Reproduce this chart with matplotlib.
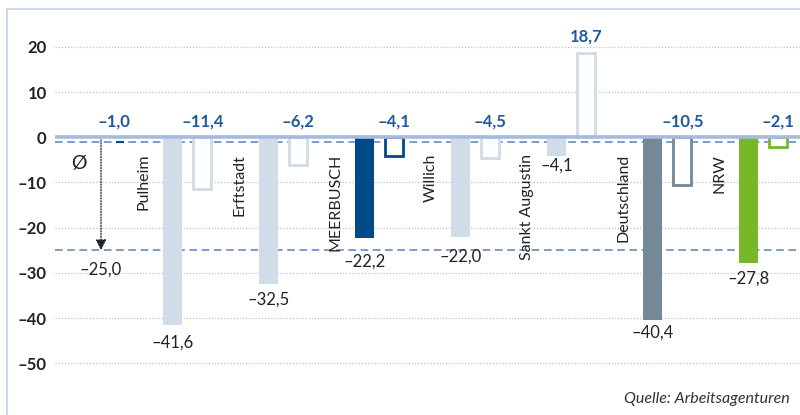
import matplotlib.pyplot as plt
from matplotlib.patches import Rectangle

plt.rcParams['font.family'] = ['Lato', 'DejaVu Sans']

# data
places = ['Pulheim', 'Erftstadt', 'MEERBUSCH', 'Willich', 'Sankt Augustin', 'Deutschland', 'NRW']
change_a = [-41.6, -32.5, -22.2, -22.0, -4.1, -40.4, -27.8]   # filled bars
change_b = [-11.4, -6.2, -4.1, -4.5, 18.7, -10.5, -2.1]       # outline bars
avg_a = -25.0
avg_b = -1.0
yticks = [20, 10, 0, -10, -20, -30, -40, -50]
source = 'Quelle: Arbeitsagenturen'

# styles
light = '#d0dce8'
colors = [light, light, '#004a87', light, light, '#748895', '#76b82a']
label_drop = [17, 15, 24, 20, 10, 13, 16]  # px below bar end
blue_txt = '#1f5a99'
dark_txt = '#222222'


def fmt(v):
    s = f'{abs(v):.1f}'.replace('.', ',')
    return ('\u2013' + s) if v < 0 else s


fig = plt.figure(figsize=(8, 4.15), dpi=100)
ax = fig.add_axes([55 / 800, 0.059, 745 / 800, 0.9154])
ax.set_xlim(-0.224, 7.536)
ax.set_ylim(-56, 28)

# frame around the graphic
fig.patches.append(Rectangle((7 / 800, -0.1), 1.2, (415 - 9) / 415 + 0.1,
                             transform=fig.transFigure, fill=False,
                             edgecolor='#cdd9ea', linewidth=1.5))

# grid
for t in yticks:
    if t != 0:
        ax.axhline(t, color='#b3c5e3', linestyle=(0, (1, 1.5)), linewidth=0.9, zorder=0)

ax.axhline(avg_a, color='#5b80c2', linestyle=(0, (5, 3)), linewidth=1.1, zorder=1)
ax.axhline(avg_b, color='#5b80c2', linestyle=(0, (5, 3)), linewidth=1.1, zorder=1)

xs = list(range(1, len(places) + 1))
w = 0.2
off = 0.31
ax.bar(xs, change_a, width=w, color=colors, zorder=2)
ax.bar([x + off for x in xs], change_b, width=0.185, facecolor='white',
       edgecolor=colors, linewidth=2, zorder=3)
ax.axhline(0, color='#a6bbe0', linewidth=2.6, zorder=4)

for x, name, a, b, drop in zip(xs, places, change_a, change_b, label_drop):
    ax.text(x - 0.305, -3.7, name, rotation=90, ha='center', va='top',
            fontsize=11.5, color=dark_txt)
    ax.annotate(fmt(a), (x, a), xytext=(0, -drop * 0.72), textcoords='offset points',
                ha='center', va='center', fontsize=12, color=dark_txt)
    yb = max(b, 0)
    ax.annotate(fmt(b), (x + off, yb), xytext=(0, 11.5),
                textcoords='offset points', ha='center', va='center',
                fontsize=12, color=blue_txt, fontweight='bold')

# average group
ax.annotate('', xy=(0.255, avg_a), xytext=(0.255, 0),
            arrowprops=dict(arrowstyle='-|>', linestyle=(0, (1, 1.2)), color='#222222',
                            linewidth=0.9, mutation_scale=16, shrinkA=0, shrinkB=0))
ax.annotate(fmt(avg_a), (0.255, avg_a), xytext=(0, -14), textcoords='offset points',
            ha='center', va='center', fontsize=12, color=dark_txt)
ax.plot([0.42, 0.48], [avg_b, avg_b], color='#004a87', linewidth=1.5, zorder=5)
ax.annotate(fmt(avg_b), (0.385, 0), xytext=(0, 11.5), textcoords='offset points',
            ha='center', va='center', fontsize=12, color=blue_txt, fontweight='bold')
ax.text(0.02, -5.7, '\u00d8', ha='center', va='center', fontsize=14, color=dark_txt)

ax.set_yticks(yticks)
ax.set_yticklabels([str(t).replace('-', '\u2013') for t in yticks],
                   fontsize=12, fontweight='bold', color='#222222')
ax.tick_params(axis='y', length=0, pad=6)
ax.set_xticks([])
for s in ax.spines.values():
    s.set_visible(False)

fig.text(790 / 800, 1 - 399 / 415, source, ha='right', va='center',
         fontsize=11.5, style='italic', color='#333333')

fig.savefig('out.png', dpi=100)
